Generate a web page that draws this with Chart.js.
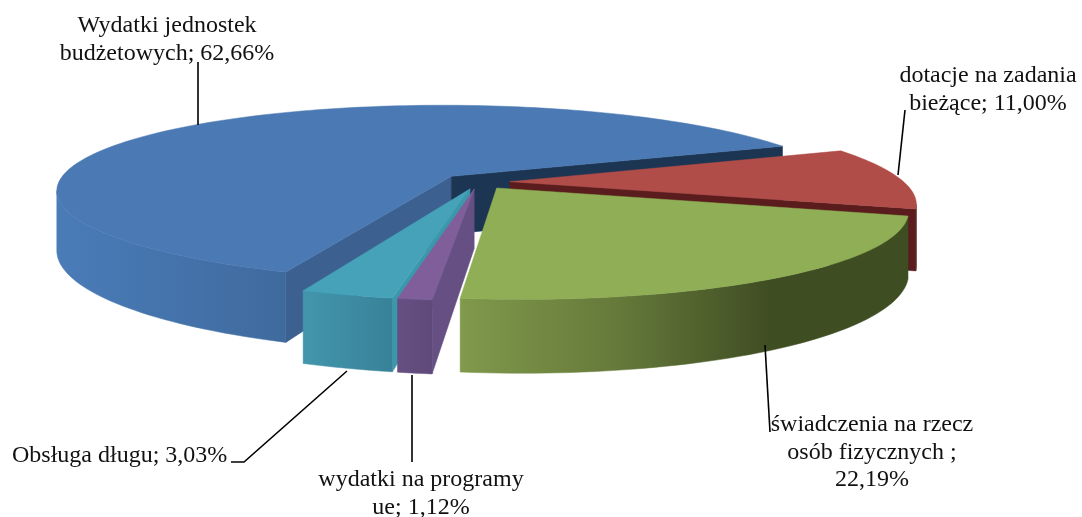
<!DOCTYPE html>
<html lang="pl">
<head>
<meta charset="UTF-8">
<title>Wydatki</title>
<script src="https://cdn.jsdelivr.net/npm/chart.js"></script>
<style>
  html, body { margin: 0; background: #fff; }
  canvas { display: block; }
</style>
</head>
<body>
<canvas id="pie" width="1082" height="517"></canvas>
<script>
// data
const categories = ['Wydatki jednostek\nbudżetowych', 'dotacje na zadania\nbieżące', 'świadczenia na rzecz\nosób fizycznych', 'wydatki na programy\nue', 'Obsługa długu'];
const values = [62.66, 11.00, 22.19, 1.12, 3.03];
const separators = ['; ', '; ', ' ;\n', '; ', '; '];

// colours: top face, left cut face, right cut face, outer wall stops [x, colour]
const topColors = ['#4a79b3', '#b04d49', '#8fae55', '#7f5e99', '#45a2b8'];
const cutStart = ['#3c6190', '#5a1c1c', '#3f4d23', '#664f82', '#3a98ac'];
const cutEnd = ['#1c3553', '#5a1c1c', '#3f4d23', '#664f82', '#3a8ca2'];
const wallStops = [
    [[55, '#4a7cb8'], [285, '#3f6a9e']],
    [[800, '#5a1c1c'], [915, '#5a1c1c']],
    [[460, '#80994b'], [620, '#65793a'], [770, '#3f4d23'], [905, '#3f4d23']],
    [[396, '#664f82'], [430, '#604a7b']],
    [[303, '#4296ac'], [390, '#388299']]
];
const explode = [23, 20, 20, 20, 20];

// painter's order back to front
const drawOrder = [0, 1, 4, 3, 2];

// camera for the tilted disc (shear leans the front of the disc to the right)
const view = { cx: 478, cy: 182, rx: 394, ry: 87, k: 0.195, shear: 16, depth: 58.5 };

// leader lines and label anchors per slice
const leaders = [
    [[198, 62], [198, 125]],
    [[905, 110], [898, 175]],
    [[765, 345], [770, 432]],
    [[412, 375], [412, 462]],
    [[347, 371], [244, 462], [231, 462]]
];
const labelPos = [
    { x: 167, y: 26, align: 'center' },
    { x: 988, y: 76, align: 'center' },
    { x: 872, y: 425, align: 'center' },
    { x: 421, y: 480, align: 'center' },
    { x: 12, y: 456, align: 'left' }
];
const lineHeight = 27.5;

function project(u, v, h) {
    const w = 1 - view.k * v;
    return { x: view.cx + (view.rx * u + view.shear * v) / w, y: view.cy + (view.ry * v + h * view.depth) / w };
}

function sliceGeometry(el) {
    const p = el.getProps(['startAngle', 'endAngle', 'outerRadius'], true);
    const mid = (p.startAngle + p.endAngle) / 2;
    const off = el.options.offset / p.outerRadius;
    const ou = off * Math.cos(mid), ov = off * Math.sin(mid);
    const steps = Math.max(4, Math.ceil((p.endAngle - p.startAngle) * 40));
    const arc = [];
    for (let i = 0; i <= steps; i++) {
        const a = p.startAngle + (p.endAngle - p.startAngle) * i / steps;
        arc.push([ou + Math.cos(a), ov + Math.sin(a)]);
    }
    return { apex: [ou, ov], arc };
}

function fillPoly(ctx, pts, fill) {
    ctx.beginPath();
    pts.forEach((p, i) => i ? ctx.lineTo(p.x, p.y) : ctx.moveTo(p.x, p.y));
    ctx.closePath();
    ctx.fillStyle = fill;
    ctx.fill();
    ctx.strokeStyle = fill;
    ctx.lineWidth = 0.5;
    ctx.stroke();
}

function drawFace(ctx, a, b, fill) {
    const p1 = project(a[0], a[1], 0), p2 = project(b[0], b[1], 0);
    if (p2.x >= p1.x) return; // only faces moving left on screen look at the camera
    fillPoly(ctx, [p1, p2, project(b[0], b[1], 1), project(a[0], a[1], 1)], fill);
}

function drawWall(ctx, arc, stops) {
    const x0 = stops[0][0], x1 = stops[stops.length - 1][0];
    const grad = ctx.createLinearGradient(x0, 0, x1, 0);
    stops.forEach(s => grad.addColorStop((s[0] - x0) / (x1 - x0), s[1]));
    const top = [], bottom = [];
    for (let i = 0; i < arc.length - 1; i++) {
        const p1 = project(arc[i][0], arc[i][1], 0), p2 = project(arc[i + 1][0], arc[i + 1][1], 0);
        if (p2.x < p1.x) {
            if (!top.length) { top.push(p1); bottom.push(project(arc[i][0], arc[i][1], 1)); }
            top.push(p2);
            bottom.push(project(arc[i + 1][0], arc[i + 1][1], 1));
        }
    }
    if (top.length) fillPoly(ctx, top.concat(bottom.reverse()), grad);
}

const pie3d = {
    id: 'pie3d',
    beforeDatasetDraw(chart, args) {
        const ctx = chart.ctx;
        const els = args.meta.data;
        ctx.save();
        ctx.lineJoin = 'round';
        drawOrder.forEach(i => {
            const g = sliceGeometry(els[i]);
            const first = g.arc[0], last = g.arc[g.arc.length - 1];
            drawFace(ctx, g.apex, first, cutStart[i]);
            drawFace(ctx, last, g.apex, cutEnd[i]);
            drawWall(ctx, g.arc, wallStops[i]);
            const outline = [project(g.apex[0], g.apex[1], 0)].concat(g.arc.map(q => project(q[0], q[1], 0)));
            fillPoly(ctx, outline, els[i].options.backgroundColor);
        });
        ctx.restore();
        return false;
    },
    afterDraw(chart) {
        const ctx = chart.ctx;
        ctx.save();
        ctx.strokeStyle = '#000';
        ctx.lineWidth = 1.6;
        leaders.forEach(l => {
            ctx.beginPath();
            l.forEach((p, i) => i ? ctx.lineTo(p[0], p[1]) : ctx.moveTo(p[0], p[1]));
            ctx.stroke();
        });
        ctx.fillStyle = '#111';
        ctx.font = '24px "Liberation Serif"';
        ctx.textBaseline = 'middle';
        values.forEach((val, i) => {
            const text = categories[i] + separators[i] + val.toFixed(2).replace('.', ',') + '%';
            ctx.textAlign = labelPos[i].align;
            text.split('\n').forEach((line, n) => {
                ctx.fillText(line, labelPos[i].x, labelPos[i].y + n * lineHeight);
            });
        });
        ctx.restore();
    }
};

new Chart(document.getElementById('pie'), {
    type: 'pie',
    data: {
        labels: categories,
        datasets: [{
            data: values,
            backgroundColor: topColors,
            borderWidth: 0,
            offset: explode
        }]
    },
    options: {
        responsive: false,
        animation: false,
        rotation: 202,
        plugins: { legend: { display: false }, tooltip: { enabled: false } }
    },
    plugins: [pie3d]
});
</script>
</body>
</html>
